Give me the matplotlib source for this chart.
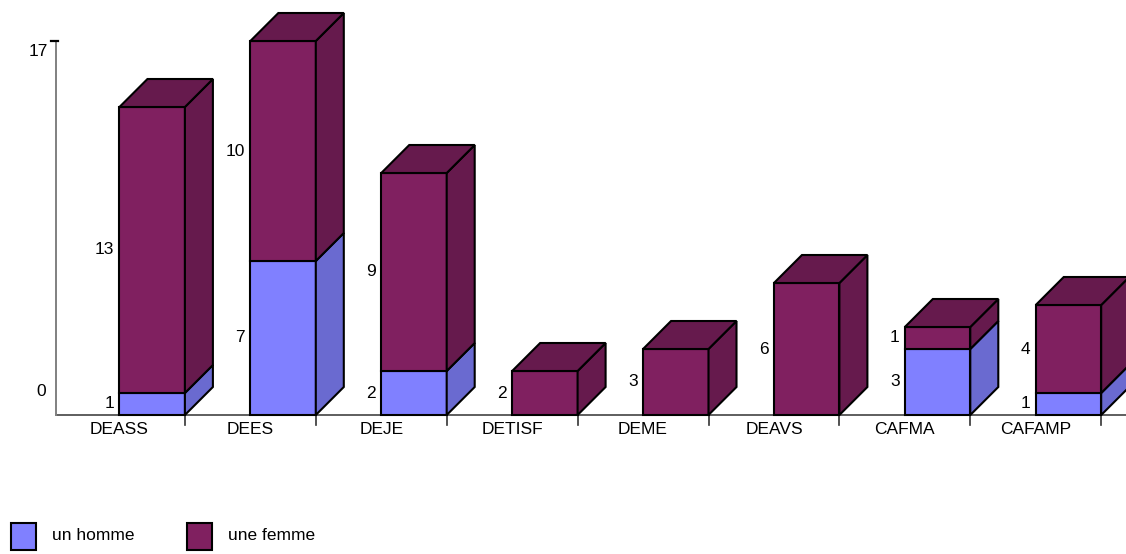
import numpy as np
import matplotlib
matplotlib.use("Agg")
import matplotlib.pyplot as plt
from matplotlib.patches import Polygon, Rectangle

plt.rcParams['font.family'] = ['Liberation Sans', 'DejaVu Sans']

# data
categories = ['DEASS', 'DEES', 'DEJE', 'DETISF', 'DEME', 'DEAVS', 'CAFMA', 'CAFAMP']
homme = [1, 7, 2, 0, 0, 0, 3, 1]
femme = [13, 10, 9, 2, 3, 6, 1, 4]
series_names = ['un homme', 'une femme']

# colours (front, side/top)
c_homme = ('#8080ff', '#6a6ad0')
c_femme = ('#802060', '#661a4d')
edge = 'black'
lw = 1.5

W, H = 1126, 554
fig = plt.figure(figsize=(W / 100, H / 100), dpi=100)
ax = fig.add_axes([0, 0, 1, 1])

# pixel layout -> data scale: x in category units, y in counts
x0_px, cat_px = 54, 130.9
y0_px, unit_px = 415, 22.0
ax.set_xlim(-x0_px / cat_px, (W - x0_px) / cat_px)
ax.set_ylim(-(H - y0_px) / unit_px, y0_px / unit_px)
ax.axis('off')

dx = 28 / cat_px
dy = 28 / unit_px
bw = 0.5


def box(x, y0, y1, colors, top):
    front, side = colors
    ax.add_patch(Polygon([(x, y0), (x + bw, y0), (x + bw, y1), (x, y1)],
                         closed=True, fc=front, ec=edge, lw=lw, zorder=3))
    ax.add_patch(Polygon([(x + bw, y0), (x + bw + dx, y0 + dy), (x + bw + dx, y1 + dy), (x + bw, y1)],
                         closed=True, fc=side, ec=edge, lw=lw, zorder=3))
    if top:
        ax.add_patch(Polygon([(x, y1), (x + bw, y1), (x + bw + dx, y1 + dy), (x + dx, y1 + dy)],
                             closed=True, fc=side, ec=edge, lw=lw, zorder=3))


fs = 12.5
for i, cat in enumerate(categories):
    x = i + 0.5
    h, f = homme[i], femme[i]
    if h > 0:
        box(x, 0, h, c_homme, top=(f == 0))
        ax.text(x - 0.04, h / 2, str(h), ha='right', va='center', fontsize=fs)
    if f > 0:
        box(x, h, h + f, c_femme, top=True)
        ax.text(x - 0.04, h + f / 2, str(f), ha='right', va='center', fontsize=fs)
    ax.text(i + 0.5, -0.3, cat, ha='center', va='top', fontsize=fs)
    # separator tick below the baseline
    ax.plot([i + 1, i + 1], [0, -10 / unit_px], color='#333333', lw=1.2, zorder=2)

# axes lines
xmax = (W - x0_px) / cat_px
ax.plot([0.015, xmax], [0, 0], color='#333333', lw=1.1, zorder=2)
ax.plot([0.015, 0.015], [0, 17], color='#808080', lw=1.4, zorder=2)
ax.plot([-0.025, 0.03], [17, 17], color='black', lw=1.6, zorder=2)
ax.text(-0.045, 16.5, '17', ha='right', va='center', fontsize=fs)
ax.text(-0.06, (y0_px - 391) / unit_px, '0', ha='right', va='center', fontsize=fs)

# legend
leg_items = [(11, 52, c_homme[0]), (187, 228, c_femme[0])]
for (sx, tx, col), name in zip(leg_items, series_names):
    fig.patches.append(Rectangle((sx / W, (H - 550) / H), 25 / W, 27 / H,
                                 transform=fig.transFigure, fc=col, ec=edge, lw=1.5))
    fig.text(tx / W, (H - 536) / H, name, ha='left', va='center', fontsize=fs)

fig.savefig('out.png', dpi=100)
